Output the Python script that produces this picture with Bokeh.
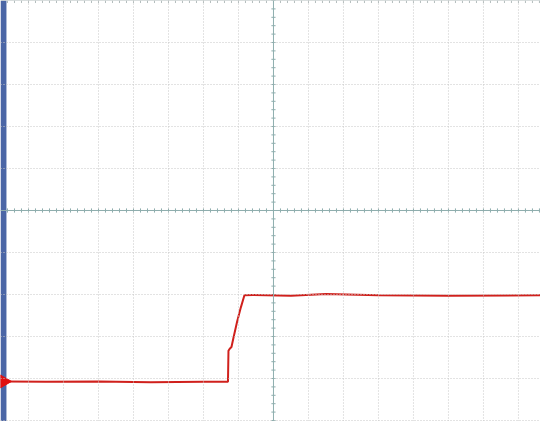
import numpy as np
from bokeh.plotting import figure
from bokeh.models import Range1d, BoxAnnotation, Span
from bokeh.embed import file_html
from bokeh.resources import INLINE

# time in divisions (center = 0), level in divisions (center = 0)
t = [-7.63, -6.5, -5.0, -3.5, -2.0, -1.30, -1.286, -1.25, -1.20, -1.14, -1.04, -0.93, -0.83,
     -0.6, 0.5, 1.5, 3.0, 5.0, 7.63]
v = [-4.07, -4.08, -4.07, -4.09, -4.08, -4.08, -3.34, -3.29, -3.25, -3.02, -2.65, -2.3, -2.02,
     -2.01, -2.03, -1.99, -2.02, -2.03, -2.02]
x_divs = list(range(-7, 8))
y_divs = list(range(-5, 6))
marker_level = -4.07

p = figure(width=540, height=421, output_backend="svg", toolbar_location=None,
           x_range=Range1d(-7.8, 7.63), y_range=Range1d(-5.024, 5.0),
           x_axis_type=None, y_axis_type=None, min_border=0)
p.outline_line_color = None
p.background_fill_color = "white"
p.border_fill_color = "white"

grid_col = "#c6c6c6"
for x in x_divs:
    if x != 0:
        p.add_layout(Span(location=x, dimension="height", line_color=grid_col,
                          line_dash="1 2", line_width=1))
for y in y_divs:
    if y not in (0, 5):
        p.add_layout(Span(location=y, dimension="width", line_color=grid_col,
                          line_dash="1 2", line_width=1))

center_col = "#8eaeae"
p.add_layout(Span(location=0, dimension="height", line_color=center_col, line_width=1))
p.add_layout(Span(location=0, dimension="width", line_color=center_col, line_width=1))
p.add_layout(Span(location=5, dimension="width", line_color="#b4bebe", line_width=1))

# minor ticks on center axes
mx = np.arange(-38, 39) * 0.2
mx = mx[(mx > -7.63) & (mx < 7.63)]
p.segment(x0=mx, y0=-0.05, x1=mx, y1=0.05, line_color=center_col, line_width=1)
my = np.arange(-25, 26) * 0.2
p.segment(x0=-0.06, y0=my, x1=0.06, y1=my, line_color=center_col, line_width=1)
# ticks on top edge
p.segment(x0=mx, y0=5, x1=mx, y1=4.94, line_color="#b4bebe", line_width=1)

# left blue bar
p.add_layout(BoxAnnotation(right=-7.63, fill_color="#4b66a6", fill_alpha=1.0,
                           line_color=None, level="underlay"))

# signal
p.line(t, v, line_color="#d0201c", line_width=2)
p.scatter([-7.7], [marker_level], marker="triangle", angle=-np.pi / 2, size=13,
          fill_color="#e01010", line_color="#e01010")

open("out.html", "w").write(file_html(p, INLINE))
